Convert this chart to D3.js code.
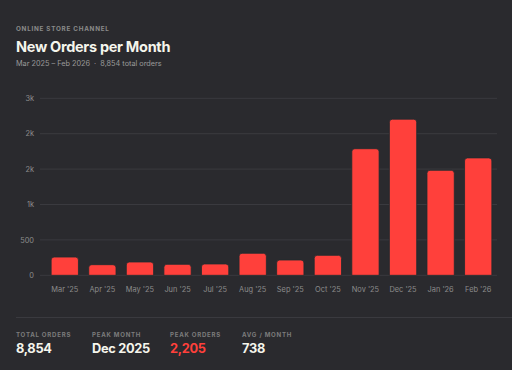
<!DOCTYPE html>
<html lang="en">
<head>
  <meta charset="UTF-8" />
  <title>New Orders per Month</title>
  <script src="https://d3js.org/d3.v7.min.js"></script>
  <style>
    html, body { margin: 0; padding: 0; background: #2a2a2e; }
    svg { display: block; font-family: Inter, "Noto Sans", sans-serif; }
    .axis-label { fill: #8c8c8c; font-size: 7.4px; }
  </style>
</head>
<body>
  <div id="chart"></div>
  <script>
    // data
    var months = ["Mar '25", "Apr '25", "May '25", "Jun '25", "Jul '25", "Aug '25",
                  "Sep '25", "Oct '25", "Nov '25", "Dec '25", "Jan '26", "Feb '26"];
    var orders = [258, 150, 188, 155, 160, 311, 216, 282, 1788, 2205, 1483, 1658];
    var yTicks = [0, 500, 1000, 1500, 2000, 2500];
    var stats = [
      { label: 'TOTAL ORDERS', value: '8,854' },
      { label: 'PEAK MONTH', value: 'Dec 2025' },
      { label: 'PEAK ORDERS', value: '2,205', accent: true },
      { label: 'AVG / MONTH', value: '738' }
    ];

    var width = 512, height = 370;
    var red = '#ff403b';

    var svg = d3.select('#chart').append('svg')
      .attr('width', width)
      .attr('height', height);

    svg.append('rect').attr('width', width).attr('height', height).attr('fill', '#2a2a2e');

    // header
    svg.append('text')
      .attr('x', 16).attr('y', 30.7)
      .attr('fill', '#8a8a8a')
      .attr('font-size', 6.3)
      .attr('font-weight', 700)
      .attr('letter-spacing', 0.75)
      .text('ONLINE STORE CHANNEL');

    svg.append('text')
      .attr('x', 16).attr('y', 52.3)
      .attr('fill', '#f5f5ec')
      .attr('font-size', 14.5)
      .attr('font-weight', 700)
      .attr('letter-spacing', -0.3)
      .text('New Orders per Month');

    svg.append('text')
      .attr('x', 16).attr('y', 65.7)
      .attr('fill', '#9a9a9a')
      .attr('font-size', 7.3)
      .style('white-space', 'pre')
      .text('Mar 2025 – Feb 2026  ·  8,854 total orders');

    // scales
    var x = d3.scaleBand()
      .domain(months)
      .range([44, 499])
      .paddingInner(0.274)
      .paddingOuter(0.19);

    var y = d3.scaleLinear()
      .domain([0, 2500])
      .range([275.3, 98.3]);

    var fmt = d3.format('.1s');

    // grid + y labels
    var grid = svg.append('g');
    grid.selectAll('line')
      .data(yTicks)
      .join('line')
      .attr('x1', 40).attr('x2', 497)
      .attr('y1', d => y(d)).attr('y2', d => y(d))
      .attr('stroke', '#3a3a3f')
      .attr('stroke-width', 1);

    grid.selectAll('text')
      .data(yTicks)
      .join('text')
      .attr('class', 'axis-label')
      .attr('x', 34)
      .attr('y', d => y(d) + 2.6)
      .attr('text-anchor', 'end')
      .text(d => fmt(d));

    // bars with rounded tops
    var r = 3;
    function barPath(d, i) {
      var x0 = x(months[i]), w = x.bandwidth();
      var y0 = y(d), y1 = y(0);
      return 'M' + x0 + ',' + y1 +
        'V' + (y0 + r) +
        'Q' + x0 + ',' + y0 + ' ' + (x0 + r) + ',' + y0 +
        'H' + (x0 + w - r) +
        'Q' + (x0 + w) + ',' + y0 + ' ' + (x0 + w) + ',' + (y0 + r) +
        'V' + y1 + 'Z';
    }

    svg.append('g').selectAll('path')
      .data(orders)
      .join('path')
      .attr('d', barPath)
      .attr('fill', red)
      .attr('stroke', '#1f2c2e')
      .attr('stroke-width', 0.8);

    // x labels
    svg.append('g').selectAll('text')
      .data(months)
      .join('text')
      .attr('class', 'axis-label')
      .attr('x', d => x(d) + x.bandwidth() / 2)
      .attr('y', 292)
      .attr('text-anchor', 'middle')
      .text(d => d);

    // footer
    svg.append('line')
      .attr('x1', 16).attr('x2', width)
      .attr('y1', 317.5).attr('y2', 317.5)
      .attr('stroke', '#3a3a3f');

    var colX = [16, 92, 170, 242];
    var foot = svg.append('g').selectAll('g')
      .data(stats)
      .join('g')
      .attr('transform', (d, i) => 'translate(' + colX[i] + ',0)');

    foot.append('text')
      .attr('y', 336.7)
      .attr('fill', '#7c7c7c')
      .attr('font-size', 6.1)
      .attr('font-weight', 700)
      .attr('letter-spacing', 0.75)
      .text(d => d.label);

    foot.append('text')
      .attr('y', 352.7)
      .attr('fill', d => d.accent ? red : '#f5f5ec')
      .attr('font-size', 12.8)
      .attr('font-weight', 700)
      .attr('letter-spacing', -0.3)
      .text(d => d.value);
  </script>
</body>
</html>
